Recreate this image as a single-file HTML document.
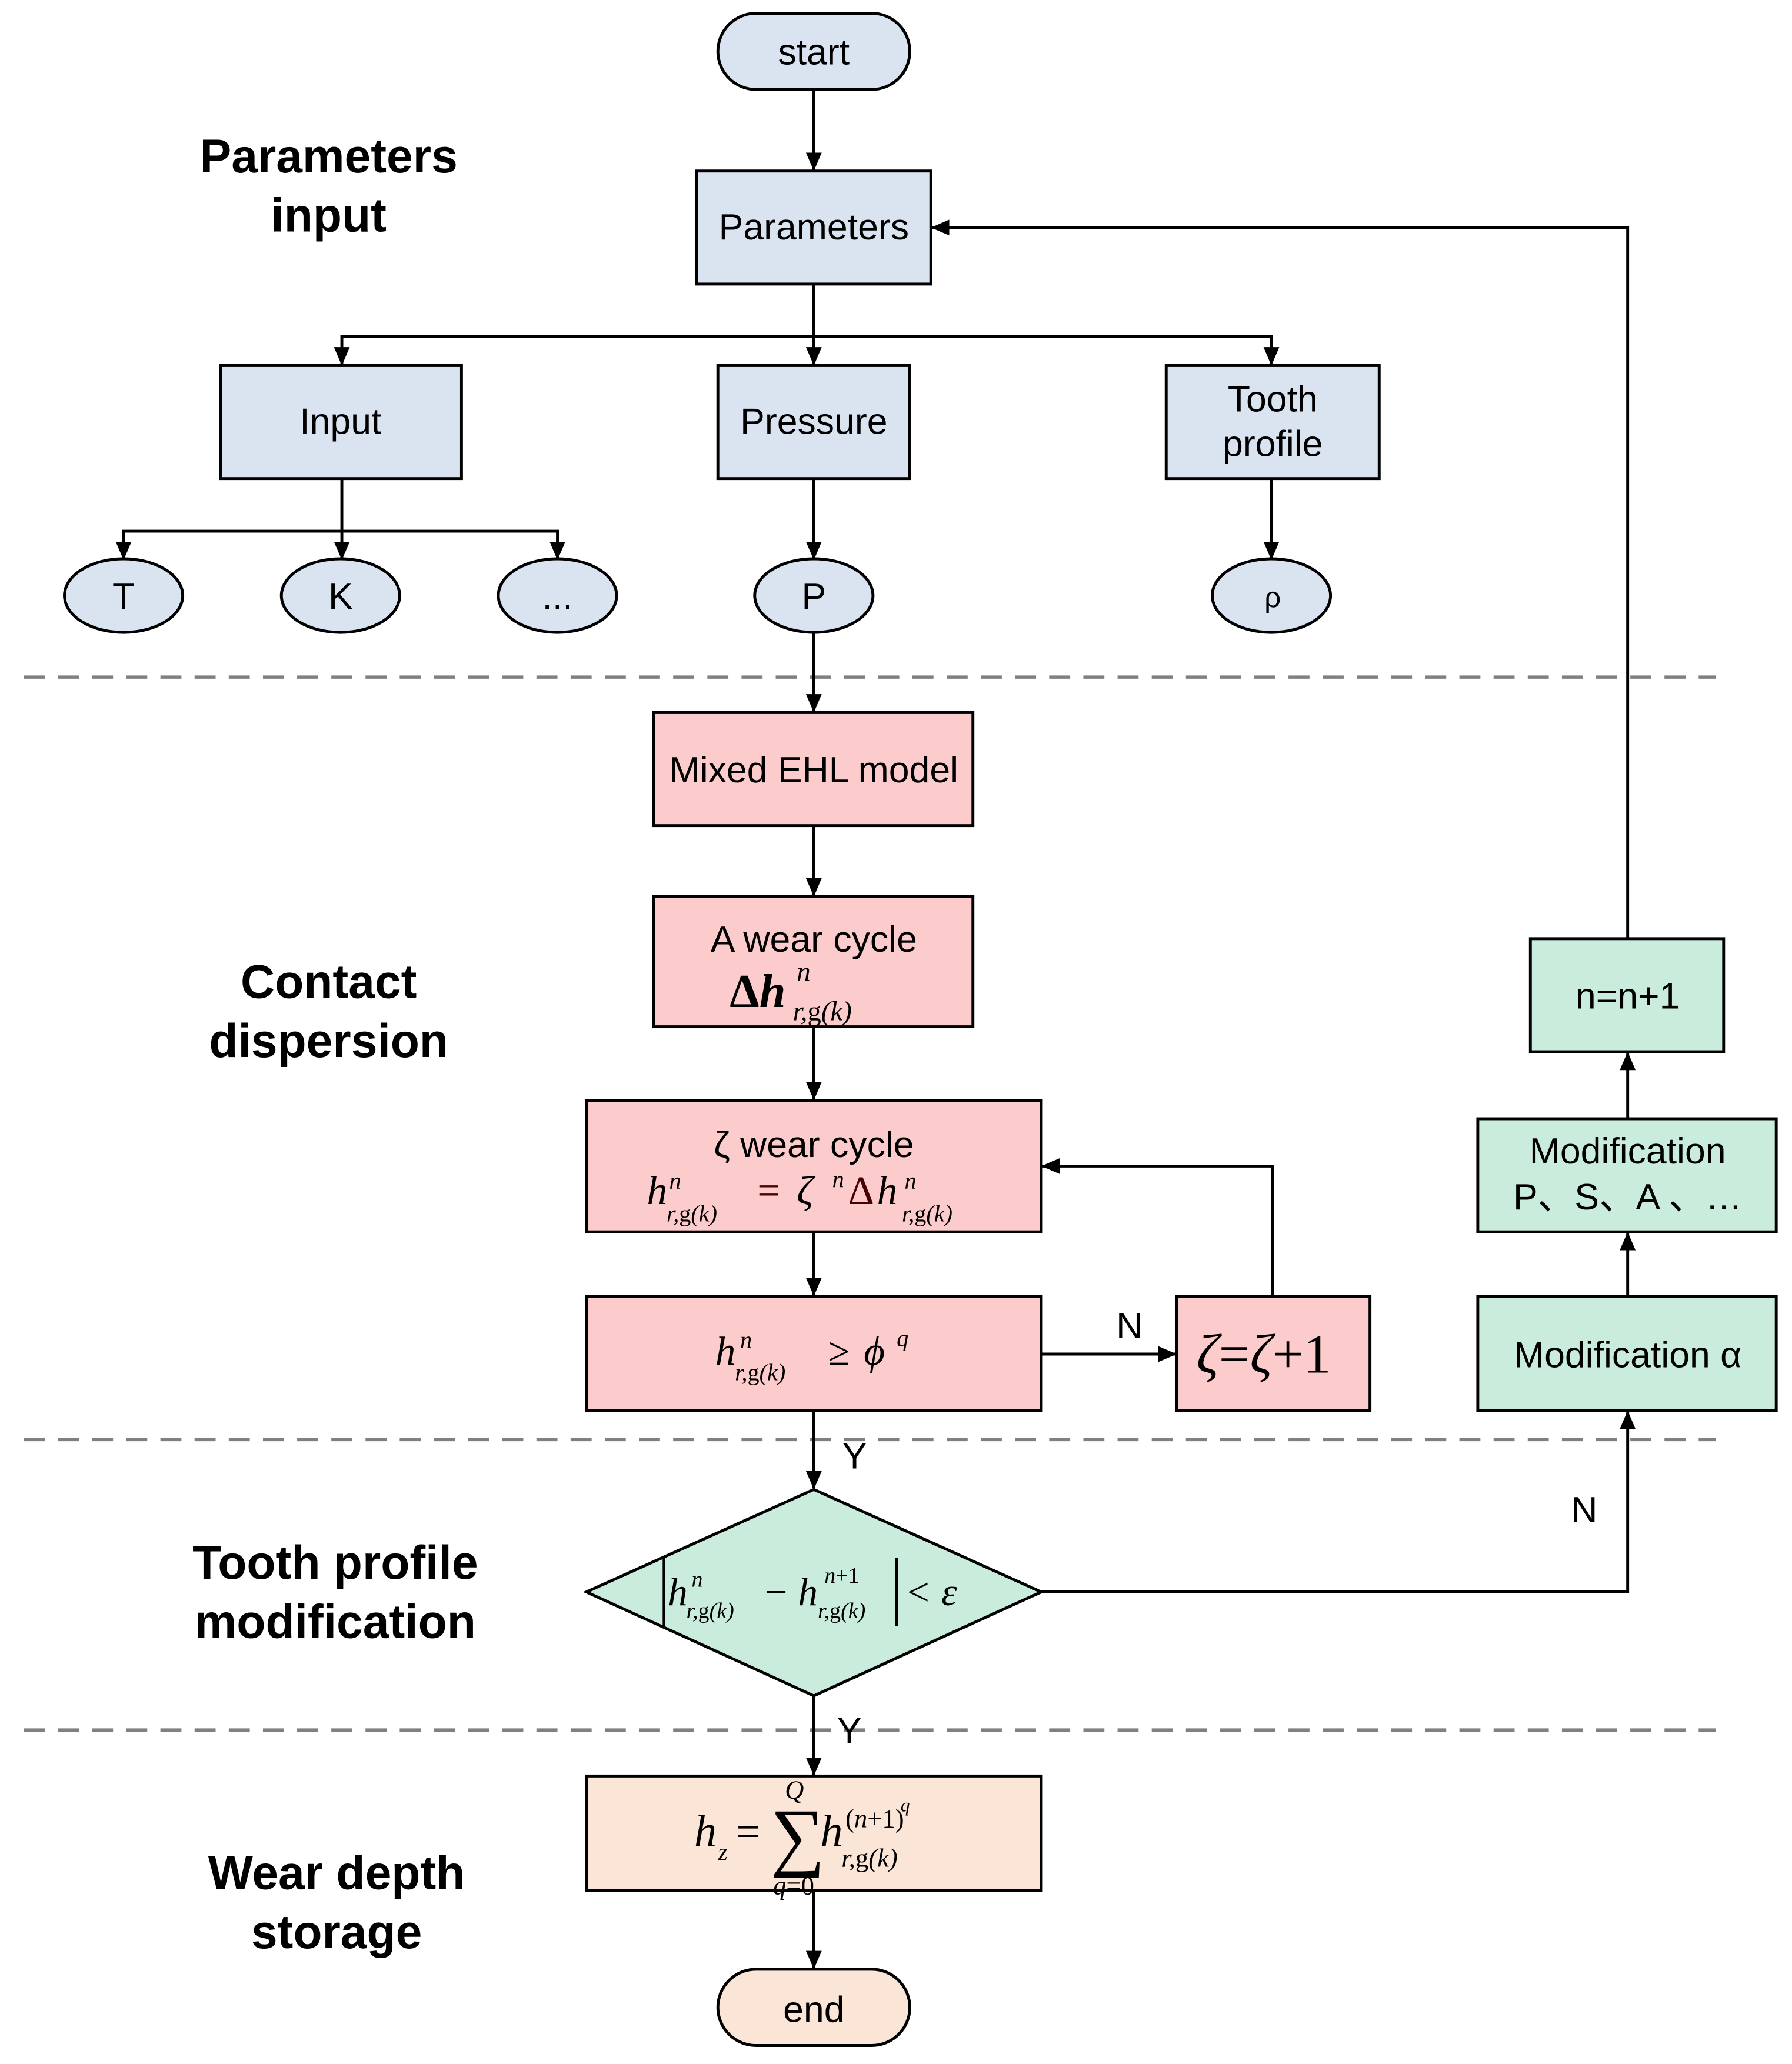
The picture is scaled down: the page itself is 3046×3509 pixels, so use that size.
<!DOCTYPE html>
<html><head><meta charset="utf-8"><style>
html,body{margin:0;padding:0;background:#fff}
svg{display:block}
.s{font-family:"Liberation Sans",sans-serif;font-size:28px;fill:#000}
.b{font-family:"Liberation Sans",sans-serif;font-size:36px;font-weight:bold;fill:#000}
.m{font-family:"Liberation Serif",serif;font-style:italic;fill:#000}
.r{font-family:"Liberation Serif",serif;font-style:normal}
</style></head><body>
<svg width="3046" height="3509" viewBox="0 0 1363 1570" xmlns="http://www.w3.org/2000/svg">
<defs><marker id="ar" markerWidth="14" markerHeight="14" refX="13" refY="7" orient="auto" markerUnits="userSpaceOnUse"><path d="M0,1 L14,7 L0,13 z" fill="#000"/></marker></defs>
<g stroke="#808080" stroke-width="2.5" stroke-dasharray="16 10" fill="none">
<line x1="18" y1="515" x2="1305" y2="515"/><line x1="18" y1="1095" x2="1305" y2="1095"/><line x1="18" y1="1316" x2="1305" y2="1316"/></g>
<g stroke="#000" stroke-width="2.2" fill="none" marker-end="url(#ar)">
<line x1="619" y1="68" x2="619" y2="129"/>
<polyline points="1238,714 1238,173 709,173"/>
<polyline points="619,216 619,256 260,256 260,277"/>
<line x1="619" y1="256" x2="619" y2="277"/>
<polyline points="619,256 967,256 967,277"/>
<polyline points="260,364 260,404 94,404 94,425"/>
<line x1="260" y1="404" x2="260" y2="425"/>
<polyline points="260,404 424,404 424,425"/>
<line x1="619" y1="364" x2="619" y2="425"/>
<line x1="967" y1="364" x2="967" y2="425"/>
<line x1="619" y1="481" x2="619" y2="541"/>
<line x1="619" y1="628" x2="619" y2="681"/>
<line x1="619" y1="781" x2="619" y2="836"/>
<line x1="619" y1="937" x2="619" y2="985"/>
<line x1="792" y1="1030" x2="894" y2="1030"/>
<polyline points="968,986 968,887 793,887"/>
<line x1="619" y1="1073" x2="619" y2="1132"/>
<polyline points="792,1211 1238,1211 1238,1074"/>
<line x1="1238" y1="986" x2="1238" y2="938"/>
<line x1="1238" y1="851" x2="1238" y2="801"/>
<line x1="619" y1="1290" x2="619" y2="1350"/>
<line x1="619" y1="1438" x2="619" y2="1497"/>
</g>
<g stroke="#000" stroke-width="2.2">
<rect x="546" y="10" width="146" height="58" rx="29" fill="#dae3f0"/>
<rect x="530" y="130" width="178" height="86" fill="#dae3f0"/>
<rect x="168" y="278" width="183" height="86" fill="#dae3f0"/>
<rect x="546" y="278" width="146" height="86" fill="#dae3f0"/>
<rect x="887" y="278" width="162" height="86" fill="#dae3f0"/>
<ellipse cx="94" cy="453" rx="45" ry="28" fill="#dae3f0"/>
<ellipse cx="259" cy="453" rx="45" ry="28" fill="#dae3f0"/>
<ellipse cx="424" cy="453" rx="45" ry="28" fill="#dae3f0"/>
<ellipse cx="619" cy="453" rx="45" ry="28" fill="#dae3f0"/>
<ellipse cx="967" cy="453" rx="45" ry="28" fill="#dae3f0"/>
<rect x="497" y="542" width="243" height="86" fill="#fccccc"/>
<rect x="497" y="682" width="243" height="99" fill="#fccccc"/>
<rect x="446" y="837" width="346" height="100" fill="#fccccc"/>
<rect x="446" y="986" width="346" height="87" fill="#fccccc"/>
<rect x="895" y="986" width="147" height="87" fill="#fccccc"/>
<polygon points="619,1133 792,1211 619,1290 446,1211" fill="#c9ecdc"/>
<rect x="1124" y="986" width="227" height="87" fill="#c9ecdc"/>
<rect x="1124" y="851" width="227" height="86" fill="#c9ecdc"/>
<rect x="1164" y="714" width="147" height="86" fill="#c9ecdc"/>
<rect x="446" y="1351" width="346" height="87" fill="#fbe5d6"/>
<rect x="546" y="1498" width="146" height="58" rx="29" fill="#fbe5d6"/>
</g>
<g text-anchor="middle" class="s">
<text x="619" y="49">start</text>
<text x="619" y="182">Parameters</text>
<text x="259" y="330">Input</text>
<text x="619" y="330">Pressure</text>
<text x="968" y="313">Tooth</text><text x="968" y="347">profile</text>
<text x="94" y="463">T</text><text x="259" y="463">K</text><text x="424" y="463">...</text>
<text x="619" y="463">P</text><text x="968" y="462" style="font-size:22px">ρ</text>
<text x="619" y="595">Mixed EHL model</text>
<text x="619" y="724">A wear cycle</text>
<text x="619" y="880">ζ  wear cycle</text>
<text x="859" y="1018">N</text>
<text x="650" y="1117">Y</text>
<text x="1205" y="1158">N</text>
<text x="646" y="1326">Y</text>
<text x="1238" y="1040">Modification α</text>
<text x="1238" y="885">Modification</text>
<text x="1238" y="920">P、S、A 、…</text>
<text x="1238" y="767">n=n+1</text>
<text x="619" y="1538">end</text>
</g>
<g text-anchor="middle" class="b">
<text x="250" y="131">Parameters</text><text x="250" y="176">input</text>
<text x="250" y="759">Contact</text><text x="250" y="804">dispersion</text>
<text x="255" y="1201">Tooth profile</text><text x="255" y="1246">modification</text>
<text x="256" y="1437">Wear depth</text><text x="256" y="1482">storage</text>
</g>
<!-- math -->
<text class="m" x="555" y="766" fill="#4a0000" style="font-size:36px;font-weight:bold"><tspan class="r">Δ</tspan>h</text>
<text class="m" x="606" y="746" style="font-size:21px" fill="#4a0000">n</text>
<text class="m" x="603" y="776" style="font-size:21px" fill="#4a0000">r,<tspan class="r">g</tspan>(k)</text>

<text class="m" x="492" y="916" style="font-size:31px" fill="#4a0000">h</text>
<text class="m" x="509" y="904" style="font-size:18px" fill="#4a0000">n</text>
<text class="m" x="507" y="929" style="font-size:18px" fill="#4a0000">r,<tspan class="r">g</tspan>(k)</text>
<text class="r" x="576" y="916" style="font-size:31px" fill="#4a0000">=</text>
<text class="m" x="606" y="916" style="font-size:31px" fill="#4a0000">ζ</text>
<text class="m" x="633" y="903" style="font-size:18px" fill="#4a0000">n</text>
<text class="r" x="645" y="916" style="font-size:31px" fill="#4a0000">Δ</text>
<text class="m" x="667" y="916" style="font-size:31px" fill="#4a0000">h</text>
<text class="m" x="688" y="904" style="font-size:18px" fill="#4a0000">n</text>
<text class="m" x="686" y="929" style="font-size:18px" fill="#4a0000">r,<tspan class="r">g</tspan>(k)</text>

<text class="m" x="544" y="1038" style="font-size:31px">h</text>
<text class="m" x="563" y="1025" style="font-size:18px">n</text>
<text class="m" x="559" y="1050" style="font-size:18px">r,<tspan class="r">g</tspan>(k)</text>
<text class="r" x="630" y="1038" style="font-size:30px">≥</text>
<text class="m" x="657" y="1038" style="font-size:31px">ϕ</text>
<text class="m" x="682" y="1024" style="font-size:18px">q</text>

<text class="m" x="910" y="1044" style="font-size:42px">ζ<tspan class="r">=</tspan>ζ<tspan class="r">+1</tspan></text>

<line x1="505" y1="1185" x2="505" y2="1237" stroke="#000" stroke-width="2"/>
<line x1="682" y1="1185" x2="682" y2="1237" stroke="#000" stroke-width="2"/>
<text class="m" x="508" y="1221" style="font-size:30px">h</text>
<text class="m" x="526" y="1207" style="font-size:17px">n</text>
<text class="m" x="522" y="1231" style="font-size:17px">r,<tspan class="r">g</tspan>(k)</text>
<text class="r" x="582" y="1221" style="font-size:30px">−</text>
<text class="m" x="607" y="1221" style="font-size:30px">h</text>
<text class="m" x="627" y="1204" style="font-size:17px">n<tspan class="r">+1</tspan></text>
<text class="m" x="622" y="1231" style="font-size:17px">r,<tspan class="r">g</tspan>(k)</text>
<text class="r" x="690" y="1221" style="font-size:30px">&lt;</text>
<text class="m" x="716" y="1221" style="font-size:30px">ε</text>

<text class="m" x="528" y="1404" style="font-size:34px">h</text>
<text class="m" x="546" y="1415" style="font-size:19px">z</text>
<text class="r" x="560" y="1404" style="font-size:32px">=</text>
<text class="r" x="586" y="1416" style="font-size:58px">∑</text>
<text class="m" x="597" y="1368" style="font-size:20px">Q</text>
<text class="m" x="588" y="1441" style="font-size:20px">q<tspan class="r">=0</tspan></text>
<text class="m" x="624" y="1404" style="font-size:34px">h</text>
<text class="m" x="643" y="1390" style="font-size:20px"><tspan class="r">(</tspan>n<tspan class="r">+1)</tspan></text>
<text class="m" x="685" y="1378" style="font-size:14px">q</text>
<text class="m" x="640" y="1420" style="font-size:20px">r,<tspan class="r">g</tspan>(k)</text>
</svg>
</body></html>
